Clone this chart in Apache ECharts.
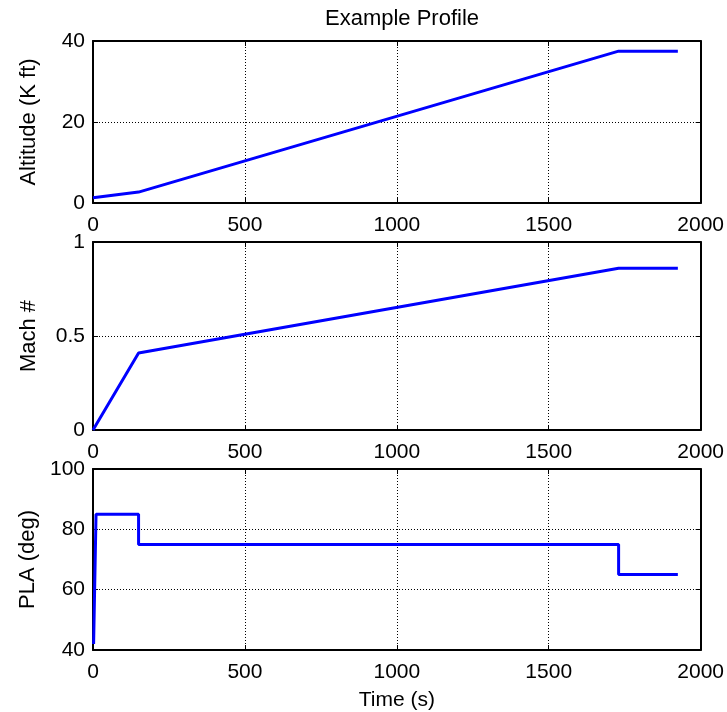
<!DOCTYPE html>
<html>
<head>
<meta charset="utf-8">
<script src="https://cdn.jsdelivr.net/npm/echarts@6/dist/echarts.min.js"></script>
<style>
  html, body { margin: 0; padding: 0; background: #fff; }
  #main { width: 727px; height: 712px; }
</style>
</head>
<body>
<div id="main"></div>
<script>
// time points (s) and values
var altTime = [0, 150, 1730, 1925];
var altitude = [1.3, 2.7, 37.5, 37.5];

var machTime = [0, 150, 1730, 1925];
var mach = [0, 0.41, 0.86, 0.86];

var plaTime = [2, 10, 150, 150, 1730, 1730, 1925];
var pla = [42, 85, 85, 75, 75, 65, 65];

function pairs(t, v) {
    var out = [];
    for (var i = 0; i < t.length; i++) out.push([t[i], v[i]]);
    return out;
}

var font = 'Liberation Sans';
var gridLine = {show: true, lineStyle: {color: '#000', type: [1, 2], width: 1}};
var tickIn = {show: true, inside: true, length: 5, lineStyle: {color: '#000', width: 1}};
var axisLab = {color: '#000', fontSize: 21, fontFamily: font};
var boxLine = {show: true, onZero: false, lineStyle: {color: '#000', width: 2}};
var plain = function (v) { return String(v); };

function xAxisFor(gi) {
    return {
        type: 'value', gridIndex: gi, min: 0, max: 2000, interval: 500,
        axisLine: boxLine, axisTick: tickIn, splitLine: gridLine,
        axisLabel: Object.assign({margin: 12, formatter: plain}, axisLab),
        name: gi === 2 ? 'Time (s)' : '', nameLocation: 'middle', nameGap: 40,
        nameTextStyle: {color: '#000', fontSize: 21, fontFamily: font}
    };
}
function xTopFor(gi) {
    return {
        type: 'value', gridIndex: gi, position: 'top', min: 0, max: 2000, interval: 500,
        axisLine: boxLine, axisTick: tickIn, splitLine: {show: false},
        axisLabel: {show: false}
    };
}
function yAxisFor(gi, min, max, step, name) {
    return {
        type: 'value', gridIndex: gi, min: min, max: max, interval: step,
        axisLine: boxLine, axisTick: tickIn, splitLine: gridLine,
        axisLabel: Object.assign({margin: 8, formatter: plain}, axisLab),
        name: name, nameLocation: 'middle', nameGap: 53, nameRotate: 90,
        nameTextStyle: {color: '#000', fontSize: 22, fontFamily: font}
    };
}
function yRightFor(gi, min, max, step) {
    return {
        type: 'value', gridIndex: gi, position: 'right', min: min, max: max, interval: step,
        axisLine: boxLine, axisTick: tickIn, splitLine: {show: false},
        axisLabel: {show: false}
    };
}
function lineSeries(gi, data) {
    return {
        type: 'line', xAxisIndex: gi, yAxisIndex: gi, data: data,
        showSymbol: false, symbol: 'none', animation: false,
        lineStyle: {color: '#0000ff', width: 3}
    };
}

var chart = echarts.init(document.getElementById('main'));
chart.setOption({
    animation: false,
    title: {
        text: 'Example Profile', left: 397, textAlign: 'center', top: 3,
        textStyle: {color: '#000', fontSize: 22, fontWeight: 'normal', fontFamily: font}
    },
    grid: [
        {left: 93, right: 25, top: 41, height: 162},
        {left: 93, right: 25, top: 242, height: 188},
        {left: 93, right: 25, top: 469, height: 182}
    ],
    xAxis: [xAxisFor(0), xAxisFor(1), xAxisFor(2), xTopFor(0), xTopFor(1), xTopFor(2)],
    yAxis: [
        yAxisFor(0, 0, 40, 20, 'Altitude (K ft)'),
        yAxisFor(1, 0, 1, 0.5, 'Mach #'),
        yAxisFor(2, 40, 100, 20, 'PLA (deg)'),
        yRightFor(0, 0, 40, 20),
        yRightFor(1, 0, 1, 0.5),
        yRightFor(2, 40, 100, 20)
    ],
    series: [
        lineSeries(0, pairs(altTime, altitude)),
        lineSeries(1, pairs(machTime, mach)),
        lineSeries(2, pairs(plaTime, pla))
    ]
});
</script>
</body>
</html>
